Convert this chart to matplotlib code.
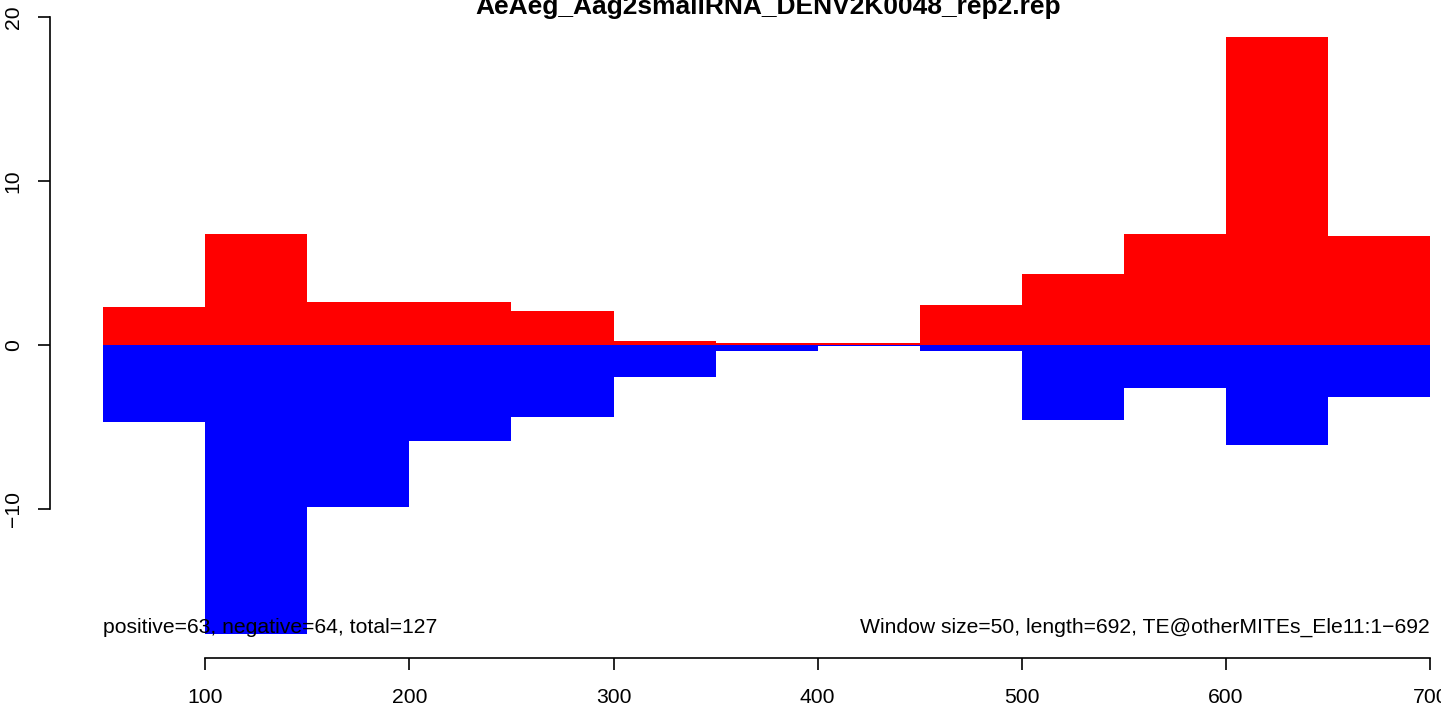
import matplotlib.pyplot as plt

# windows along the element (left edges, width 50)
window_starts = [50, 100, 150, 200, 250, 300, 350, 400, 450, 500, 550, 600, 650]
window_size = 50
# reads per window, sense (positive) and antisense (negative)
positive_values = [2.33, 6.79, 2.65, 2.65, 2.10, 0.27, 0.10, 0.10, 2.46, 4.35, 6.75, 18.8, 6.62]
negative_values = [-4.72, -17.65, -9.90, -5.87, -4.42, -1.97, -0.34, -0.09, -0.34, -4.55, -2.65, -6.07, -3.15]

x_ticks = [100, 200, 300, 400, 500, 600, 700]
y_ticks = [-10, 0, 10, 20]

title = "AeAeg_Aag2smallRNA_DENV2K0048_rep2.rep"
left_note = "positive=63, negative=64, total=127"
right_note = "Window size=50, length=692, TE@otherMITEs_Ele11:1\u2212692"

plt.rcParams['font.family'] = ['Liberation Sans', 'DejaVu Sans']

W, H = 1441, 706
fig = plt.figure(figsize=(W / 100, H / 100), dpi=100)
# plot region like R: runs a bit past the right edge of the picture
ax = fig.add_axes([50 / W, (H - 658.2) / H, 1433.3 / W, 644.5 / H])

ax.bar(window_starts, positive_values, width=window_size, align='edge', color='red', linewidth=0)
ax.bar(window_starts, negative_values, width=window_size, align='edge', color='blue', linewidth=0)

ax.set_xlim(24, 726)
ax.set_ylim(-19.1, 20.2)

for s in ['top', 'right']:
    ax.spines[s].set_visible(False)
ax.spines['left'].set_bounds(-10, 20)
ax.spines['bottom'].set_bounds(100, 700)
for s in ['left', 'bottom']:
    ax.spines[s].set_linewidth(1.2)

ax.set_xticks(x_ticks)
ax.set_yticks(y_ticks)
ax.tick_params(direction='out', length=8.6, width=1.2, labelsize=15.2)
ax.tick_params(axis='x', pad=13)
ax.tick_params(axis='y', pad=11)
plt.setp(ax.get_yticklabels(), rotation=90, va='center')

ax.text(50, -17.55, left_note, ha='left', va='baseline', fontsize=15.2)
ax.text(700, -17.55, right_note, ha='right', va='baseline', fontsize=15.2)

fig.text(768 / W, (H - 14) / H, title, ha='center', va='baseline', fontsize=19, fontweight='bold')

plt.savefig('out.png', dpi=100)
